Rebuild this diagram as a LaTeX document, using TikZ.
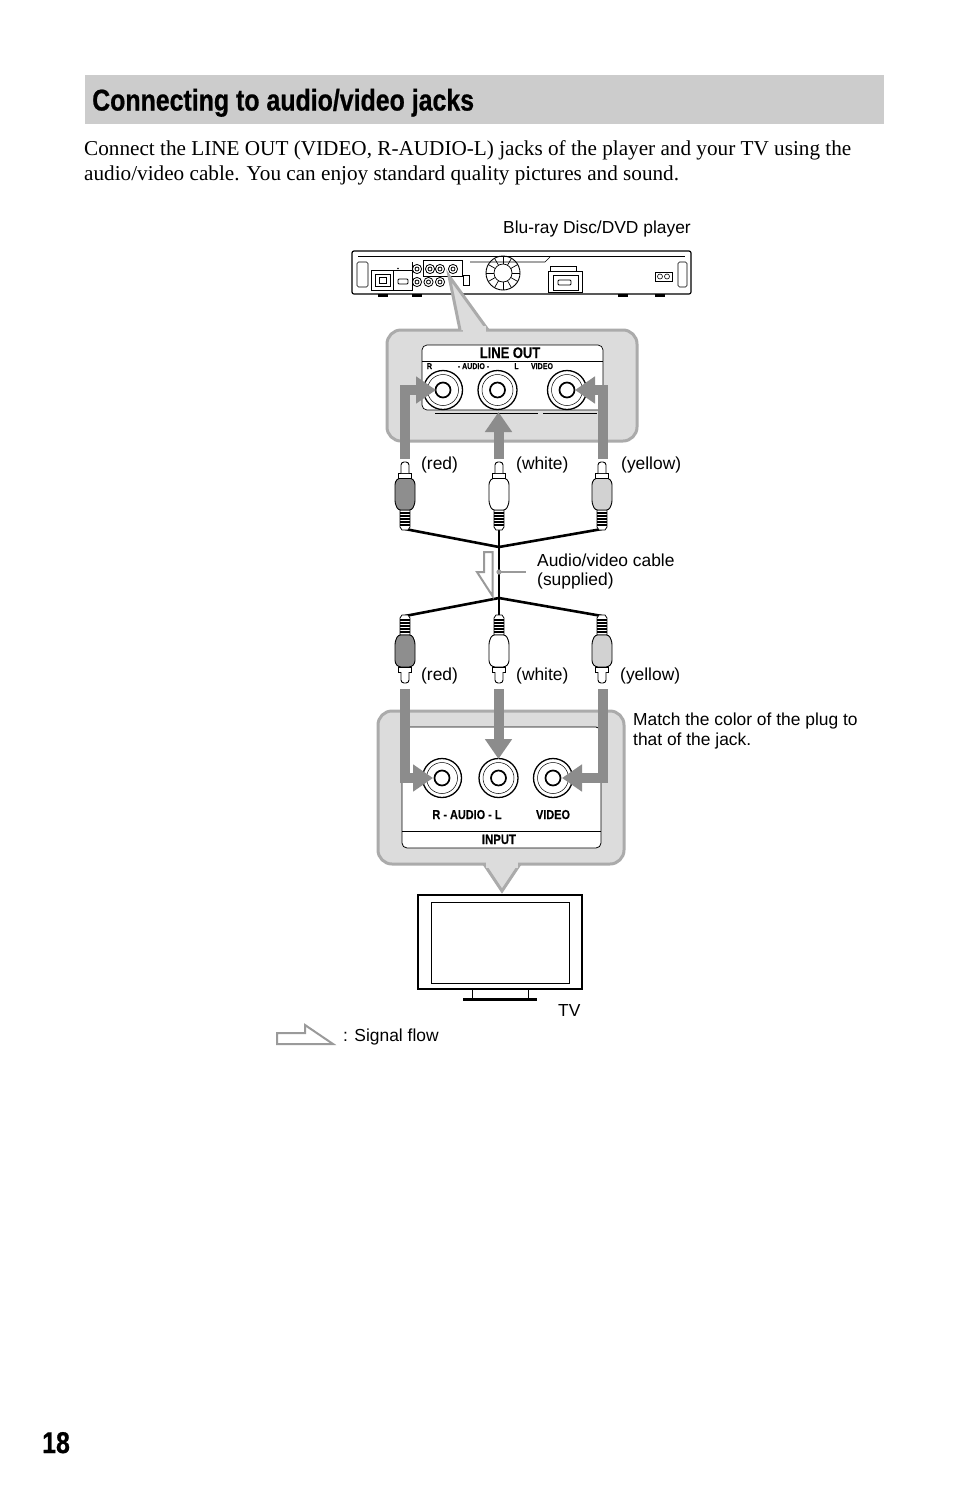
\documentclass[tikz,border=0pt]{standalone}
\usepackage{fontspec}
\setmainfont{Liberation Serif}
\newfontfamily\arialf{Liberation Sans}
\newfontfamily\condf[FakeStretch=0.84,FakeBold=0.3]{Liberation Sans}
\newfontfamily\titlef[FakeStretch=0.83,FakeBold=0.7]{Liberation Sans}
\usetikzlibrary{arrows.meta}
\definecolor{bandgray}{HTML}{CCCCCC}
\definecolor{callfill}{HTML}{DCDCDC}
\definecolor{callline}{HTML}{ABABAB}
\definecolor{arrowgray}{HTML}{8C8C8C}
\definecolor{redplug}{HTML}{8E8E8E}
\definecolor{yellowplug}{HTML}{D2D2D2}
\definecolor{flowgray}{HTML}{9A9A9A}
\tikzset{
  lbl/.style={font=\arialf\fontsize{17.4}{20}\selectfont, anchor=west, inner sep=0pt},
  bodytext/.style={font=\fontsize{21.2}{25}\selectfont, anchor=base west, inner sep=0pt},
  paneltext/.style={font=\condf\bfseries\fontsize{#1}{#1}\selectfont, inner sep=0pt, anchor=base},
  titletext/.style={font=\titlef\bfseries\fontsize{30}{30}\selectfont, inner sep=0pt, anchor=base west},
  bigarrow/.style={draw=arrowgray, line width=10pt, line join=miter, -{Triangle[length=20pt,width=26pt]}},
  cable/.style={line width=2.6pt, black},
  callout/.style={fill=callfill, draw=callline, line width=3pt},
  flowshape/.style={draw=flowgray, line width=2pt, fill=white, line join=miter},
  pics/rca/.style={code={
    \draw[fill=white, line width=0.8pt] (-5,48) -- (5,48) -- (5,65) -- (3,68) -- (-3,68) -- (-5,65) -- cycle;
    \foreach \yy in {51,54,57,60,63} \draw[line width=1.1pt] (-5,\yy) -- (5,\yy);
    \draw[fill=#1, line width=0.9pt, rounded corners=2.5pt] (-6.5,16) -- (6.5,16) -- (10,20) -- (10,41) -- (7,48) -- (-7,48) -- (-10,41) -- (-10,20) -- cycle;
    \draw[fill=white, line width=0.9pt] (-6.5,11) rectangle (6.5,16);
    \draw[fill=white, line width=0.9pt, rounded corners=3pt] (-4,11) -- (-4,0) -- (4,0) -- (4,11);
  }},
  pics/jack/.style={code={
    \draw[fill=white, line width=1.3pt] (0,0) circle[radius=19.5pt];
    \draw[line width=0.5pt] (0,0) circle[radius=15.5pt];
    \draw[line width=1.7pt] (0,0) circle[radius=7.5pt];
  }}
}
\begin{document}
\begin{tikzpicture}[x=1pt,y=-1pt]
\useasboundingbox (0,0) rectangle (954,1486);
\fill[white] (0,0) rectangle (954,1486);

% ---------- heading and paragraph ----------
\fill[bandgray] (85,75) rectangle (884,124);
\node[titletext] (title) at (92,110.5) {Connecting to audio/video jacks};
\node[bodytext] (para1) at (84,155) {Connect the LINE OUT (VIDEO, R-AUDIO-L) jacks of the player and your TV using the};
\node[bodytext] (para2) at (84,180) {audio/video cable. You can enjoy standard quality pictures and sound.};
\node[titletext] (pagenum) at (42,1453) {18};

% ---------- player ----------
\node[lbl] (playerlbl) at (503,229) {Blu-ray Disc/DVD player};
\draw[line width=1.2pt, fill=white, rounded corners=2pt] (352,251) rectangle (691,294);
\draw[line width=0.6pt] (358,256.5) -- (685,256.5);
\foreach \fx in {378,412,618,655} \fill (\fx,294) rectangle ++(10,2.5);
\draw[line width=0.6pt, rounded corners=1.5pt] (357,262) rectangle (368,287);
\draw[line width=0.6pt, rounded corners=1.5pt] (678,262) rectangle (687,287);
\draw[line width=0.6pt] (371,270) rectangle (393,290);
\draw[line width=0.8pt] (375,274) rectangle (390,286);
\draw[line width=0.7pt] (379,277) -- (386,277) -- (386,283) -- (379,283) -- cycle;
\draw[line width=0.6pt] (393,270) rectangle (412,290);
\draw[line width=0.8pt, rounded corners=1pt] (398,279) rectangle (408,284);
\fill (398,268.5) circle[radius=0.8pt];
\draw[line width=0.6pt] (412,262) -- (412,290);
\draw[line width=0.6pt] (423,260) rectangle (462,276);
\foreach \cx in {417,430,440,453} \draw[line width=0.8pt] (\cx,269) circle[radius=4.6pt] (\cx,269) circle[radius=2pt];
\foreach \cx in {417,428.5,440} \draw[line width=0.8pt] (\cx,282) circle[radius=4.6pt] (\cx,282) circle[radius=2pt];
\draw[line width=0.6pt] (463,275) rectangle (469,285);
\draw[line width=0.6pt] (470,262) -- (545,262) -- (550,257);
\draw[line width=0.9pt] (503,273) circle[radius=17pt];
\draw[line width=0.7pt] (503,273) circle[radius=9pt];
\foreach \ang in {0,30,...,330} \draw[line width=0.7pt] (503,273) ++(\ang:9pt) -- ++(\ang:8pt);
\draw[line width=0.6pt] (550,266) rectangle (576,271);
\draw[line width=0.8pt] (548,271) rectangle (582,292);
\draw[line width=0.6pt] (553,275) rectangle (578,290);
\draw[line width=0.8pt, rounded corners=1pt] (558,280) rectangle (571,285);
\draw[line width=0.8pt] (655,272) rectangle (672,281);
\draw[line width=0.6pt] (660,276.5) circle[radius=2.5pt] (667,276.5) circle[radius=2.5pt];

% ---------- LINE OUT callout ----------
\draw[callout, rounded corners=14pt] (387,330) rectangle (637,441);
\draw[callout] (460,330) -- (449,276) -- (488,330);
\fill[callfill] (462.5,326) rectangle (485.5,334);
\draw[line width=0.7pt, fill=white, rounded corners=5pt] (422,345) -- (603,345) -- (603,408) -- (603,410) -- (422,410) -- cycle;
\draw[line width=0.6pt] (422,361) -- (603,361);
\draw[line width=0.6pt] (435,413) -- (538,413) (543,413) -- (597,413);
\node[paneltext=15.4] (lineout) at (510,358) {LINE OUT};
\node[paneltext=8.4] (lR) at (429.5,369) {R};
\node[paneltext=8.4] (lAudio) at (473.5,369) {- AUDIO -};
\node[paneltext=8.4] (lL) at (516.5,369) {L};
\node[paneltext=8.4] (lVideo) at (542,369) {VIDEO};
\pic (jo1) at (443,390) {jack};
\pic (jo2) at (497.5,390) {jack};
\pic (jo3) at (567,390) {jack};
\coordinate (jotipL) at (436,390);
\coordinate (jotipM) at (498.5,412);
\coordinate (jotipR) at (575,390);

% ---------- INPUT callout ----------
\draw[callout, rounded corners=14pt] (378,711) rectangle (624,864);
\draw[callout] (484,864) -- (502,891) -- (520,864);
\fill[callfill] (486,860) rectangle (518,868);
\draw[line width=0.8pt, fill=white, rounded corners=5pt] (402,727) rectangle (601,848);
\draw[line width=0.8pt] (402,831) -- (601,831);
\node[paneltext=13] (iAudio) at (467,819) {R - AUDIO - L};
\node[paneltext=13] (iVideo) at (553,819) {VIDEO};
\node[paneltext=13.5] (iInput) at (499,844) {INPUT};
\pic (ji1) at (442,778) {jack};
\pic (ji2) at (498.5,778) {jack};
\pic (ji3) at (553,778) {jack};
\coordinate (jitipL) at (433,778);
\coordinate (jitipM) at (498.5,759);
\coordinate (jitipR) at (562,778);

% ---------- signal arrows ----------
\coordinate (aoL) at (405,459);
\coordinate (aoM) at (498.5,459);
\coordinate (aoR) at (603,459);
\draw[bigarrow] (aoL) |- (jotipL);
\draw[bigarrow] (aoM) -- (jotipM);
\draw[bigarrow] (aoR) |- (jotipR);
\coordinate (aiL) at (405,689);
\coordinate (aiM) at (498.5,689);
\coordinate (aiR) at (603,689);
\draw[bigarrow] (aiL) |- (jitipL);
\draw[bigarrow] (aiM) -- (jitipM);
\draw[bigarrow] (aiR) |- (jitipR);

% ---------- cable ----------
\coordinate (ptL) at (405,529);
\coordinate (ptM) at (499,529);
\coordinate (ptR) at (602,529);
\coordinate (j1) at (499,547);
\coordinate (j2) at (499,598);
\coordinate (pbL) at (405,616);
\coordinate (pbM) at (499,616);
\coordinate (pbR) at (602,616);
\draw[cable] (ptL) -- (j1) -- (ptR);
\draw[cable] (ptM) -- (j2);
\draw[cable] (pbL) -- (j2) -- (pbR);
\draw[cable] (j2) -- (pbM);

\pic at (405,462) {rca=redplug};
\pic at (499,462) {rca=white};
\pic at (602,462) {rca=yellowplug};
\pic[yscale=-1] at (405,683) {rca=redplug};
\pic[yscale=-1] at (499,683) {rca=white};
\pic[yscale=-1] at (602,683) {rca=yellowplug};

\node[lbl] (redT) at (421,465) {(red)};
\node[lbl] (whiteT) at (516,465) {(white)};
\node[lbl] (yellowT) at (621,465) {(yellow)};
\node[lbl] (redB) at (421,676) {(red)};
\node[lbl] (whiteB) at (516,676) {(white)};
\node[lbl] (yellowB) at (620,676) {(yellow)};

% flow arrow along cable
\draw[flowshape] (484,552) -- (492.5,552) -- (492.5,596) -- (477,572) -- (484,572) -- cycle;
\coordinate (cabledot) at (499,572);
\coordinate (leaderend) at (526,572);
\draw[flowgray, line width=1.3pt] (cabledot) -- (leaderend);
\fill[flowgray] (cabledot) circle[radius=2.6pt];
\node[lbl] (cablelbl1) at (537,560) {Audio/video cable};
\node[lbl] (cablelbl2) at (537,580.5) {(supplied)};

\node[lbl] (match1) at (633,721) {Match the color of the plug to};
\node[lbl] (match2) at (633,741) {that of the jack.};

% ---------- TV ----------
\draw[line width=2.6pt, fill=white] (418,895) rectangle (582,989);
\draw[line width=1pt] (431,902) rectangle (569,983);
\draw[line width=0.8pt] (472,989) rectangle (528,998);
\draw[line width=3pt] (463,999.5) -- (537,999.5);
\node[lbl] (tvlbl) at (558,1011) {TV};

% ---------- legend ----------
\draw[flowshape] (277,1044) -- (333,1044) -- (305,1025) -- (305,1033) -- (277,1033) -- cycle;
\node[lbl] (legendlbl) at (343,1037) {: Signal flow};
\end{tikzpicture}
\end{document}
